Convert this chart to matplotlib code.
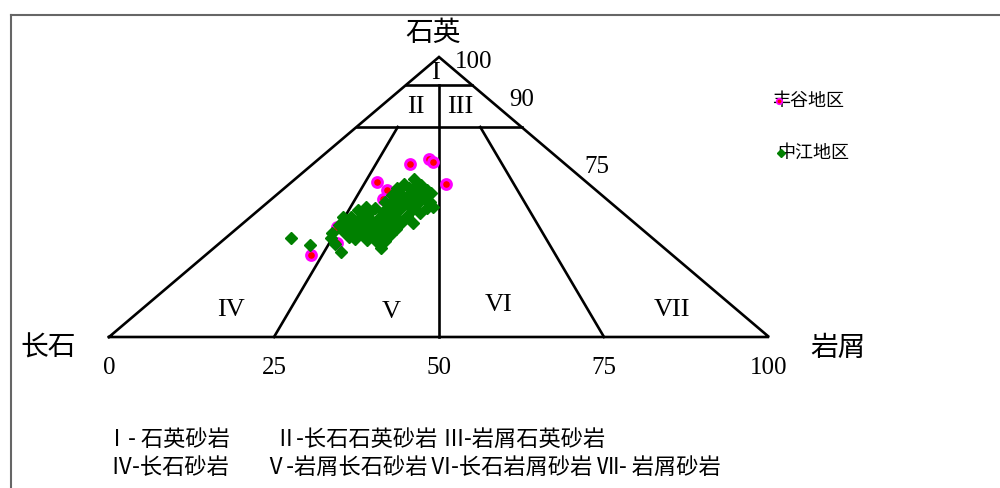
"""
QFL ternary diagram (quartz / feldspar / lithics) for the Fenggu and Zhongjiang areas.
"""
import numpy as np
import matplotlib
matplotlib.use('Agg')
import matplotlib.pyplot as plt
from matplotlib.lines import Line2D

plt.rcParams['font.family'] = ['Noto Sans CJK SC', 'DejaVu Sans']

# Compositions in percent: Q = quartz, L = lithics (feldspar = 100 - Q - L)
FENGGU_Q = [29.3, 33.6, 39.3, 39.3, 41.4, 55.4, 52.5, 49.3, 61.8, 63.6, 62.5, 54.6]
FENGGU_L = [16.0, 17.7, 14.9, 15.9, 15.8, 12.9, 15.9, 16.9, 14.7, 16.7, 17.9, 23.8]

ZHONGJIANG_Q = [56.4, 54.6, 54.3, 53.2, 53.2, 52.5, 51.4, 51.8, 51.4, 50.7,
                49.6, 49.6, 49.3, 48.6, 48.2, 47.9, 47.5, 47.1, 46.1, 46.4,
                45.7, 45.7, 45.0, 44.6, 46.1, 46.4, 45.4, 44.3, 43.2, 42.9,
                42.5, 42.1, 42.5, 42.1, 42.9, 42.9, 40.7, 41.1, 40.4, 40.0,
                40.4, 40.4, 40.0, 40.7, 38.6, 38.2, 38.2, 38.6, 38.2, 37.9,
                37.9, 37.1, 36.4, 36.1, 36.4, 36.8, 34.3, 34.6, 34.3, 35.0,
                35.7, 35.4, 32.9, 31.8, 30.4, 35.4, 44.6, 46.8, 51.1, 48.2,
                54.3, 50.0, 43.9, 37.5, 40.0, 33.2, 39.6, 44.6]
ZHONGJIANG_L = [18.0, 17.4, 20.1, 17.0, 18.9, 21.9, 23.1, 20.9, 18.4, 17.5,
                22.9, 21.1, 19.8, 19.2, 24.5, 22.8, 21.4, 18.8, 25.1, 25.9,
                23.2, 21.3, 20.5, 19.2, 17.2, 15.7, 15.0, 24.9, 23.6, 22.1,
                21.0, 19.7, 18.1, 16.9, 15.2, 14.0, 25.7, 23.8, 22.7, 21.5,
                20.0, 18.6, 17.4, 15.7, 24.2, 23.0, 21.7, 20.1, 19.1, 17.8,
                16.5, 15.3, 23.0, 21.7, 20.3, 24.3, 23.3, 21.8, 24.6, 19.8,
                18.5, 15.9, 14.0, 25.3, 20.0, 9.9, 17.2, 19.9, 20.1, 17.7,
                19.4, 23.0, 16.6, 18.5, 14.8, 17.6, 20.0, 20.3]

QUARTZ_LINES = [90, 75]          # horizontal class boundaries (% quartz)
FL_RATIOS = [25, 50, 75]         # L/(F+L) boundaries along the base
BASE_TICKS = [0, 25, 50, 75, 100]
EDGE_TICKS = [100, 90, 75]
REGIONS = ['I', 'II', 'III', 'IV', 'V', 'VI', 'VII']
REGION_Q = [94.3, 82.1, 82.1, 9.6, 8.9, 11.4, 9.6]
REGION_X = [49.5, 46.5, 53.2, 18.5, 42.7, 59.1, 85.3]
AREA_NAMES = ['丰谷地区', '中江地区']
NOTES = [['Ⅰ- 石英砂岩', 'Ⅱ-长石石英砂岩', 'Ⅲ-岩屑石英砂岩'],
         ['Ⅳ-长石砂岩', 'Ⅴ-岩屑长石砂岩', 'Ⅵ-长石岩屑砂岩', 'Ⅶ- 岩屑砂岩']]
NOTE_X = [[106, 274, 442], [110, 264, 430, 597]]
NOTE_Y = [440, 467]


def to_xy(q, l):
    q = np.asarray(q, float)
    l = np.asarray(l, float)
    return l + q / 2, q


def main():
    fig = plt.figure(figsize=(10, 4.88), dpi=100)
    ax = fig.add_axes([0, 0, 1, 1])
    ax.set_xlim(-109 / 6.6, 891 / 6.6)
    ax.set_ylim(-151 / 2.8, 337 / 2.8)
    ax.axis('off')

    lw = 1.9
    # outer triangle
    ax.plot([0, 50, 100, 0], [0, 100, 0, 0], color='black', lw=lw, solid_joinstyle='miter')
    # horizontal quartz boundaries
    for q in QUARTZ_LINES:
        ax.plot([q / 2, 100 - q / 2], [q, q], color='black', lw=lw)
    # F:L ratio boundaries (towards apex, stopped at 75 % / 90 % quartz)
    for r in FL_RATIOS:
        qtop = QUARTZ_LINES[0] if r == 50 else QUARTZ_LINES[1]
        ax.plot([r, r + (50 - r) * qtop / 100], [0, qtop], color='black', lw=lw)

    # data points
    fx, fy = to_xy(FENGGU_Q, FENGGU_L)
    ax.plot(fx, fy, 'o', ms=7, mfc='red', mec='#ff00ff', mew=2.2, ls='none', zorder=3)
    zx, zy = to_xy(ZHONGJIANG_Q, ZHONGJIANG_L)
    ax.plot(zx, zy, 'D', ms=6.6, color='green', ls='none', zorder=4)

    # legend-like labels
    ax.text(100.5, 84.3, AREA_NAMES[0], fontsize=13, va='center', ha='left')
    ax.plot([101.5], [84.3], 'o', ms=4, mfc='red', mec='#ff00ff', mew=1.2, zorder=5)
    ax.text(101.2, 65.7, AREA_NAMES[1], fontsize=13, va='center', ha='left')
    ax.plot([101.8], [65.7], 'D', ms=4.5, color='green', zorder=5)

    # corner labels
    ax.text(49.1, 108.6, '石英', fontsize=20, ha='center', va='center')
    ax.text(-9.2, -3.9, '长石', fontsize=20, ha='center', va='center')
    ax.text(110.5, -3.9, '岩屑', fontsize=20, ha='center', va='center')

    serif = 'Liberation Serif'
    for t in BASE_TICKS:
        ax.text(t, -11.1, str(t), fontsize=18, family=serif, ha='center', va='center')
    edge_pos = [(55.3, 98.2), (62.6, 84.6), (73.9, 60.7)]
    for t, (x, y) in zip(EDGE_TICKS, edge_pos):
        ax.text(x, y, str(t), fontsize=18, family=serif, ha='center', va='center')

    for name, x, q in zip(REGIONS, REGION_X, REGION_Q):
        ax.text(x, q, name, fontsize=19, family=serif, ha='center', va='center')

    # class explanation under the diagram
    for row, xs, y in zip(NOTES, NOTE_X, NOTE_Y):
        for txt, x in zip(row, xs):
            fig.text(x / 1000, 1 - y / 488, txt, fontsize=16, ha='left', va='center')

    # frame lines (top and left)
    fig.add_artist(Line2D([10.5 / 1000, 1], [1 - 14.5 / 488] * 2, color='#666666', lw=1.5,
                          transform=fig.transFigure))
    fig.add_artist(Line2D([10.5 / 1000] * 2, [0, 1 - 14.5 / 488], color='#666666', lw=1.5,
                          transform=fig.transFigure))

    fig.savefig('out.png', dpi=100)


if __name__ == "__main__":
    main()
